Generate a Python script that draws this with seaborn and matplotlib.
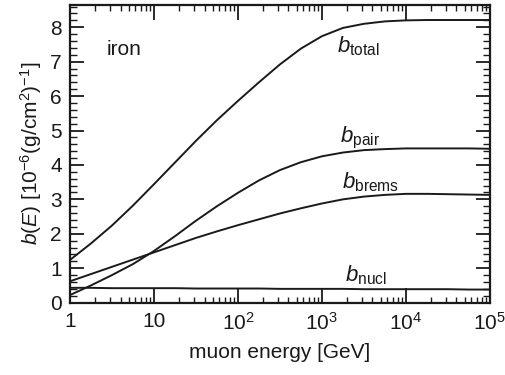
import numpy as np
import pandas as pd
import matplotlib
matplotlib.use("Agg")
import matplotlib.pyplot as plt
from matplotlib.ticker import LogLocator, MultipleLocator, FixedLocator, FixedFormatter, NullFormatter
import seaborn as sns

# Muon energy grid (GeV), quarter-decade steps from 1 GeV to 100 TeV
energy = [1.0, 1.778, 3.162, 5.623, 10.0, 17.78, 31.62, 56.23, 100.0, 177.8, 316.2,
          562.3, 1000.0, 1778.0, 3162.0, 5623.0, 1e4, 1.778e4, 3.162e4, 5.623e4, 1e5]

# Energy-loss coefficients in iron, units of 1e-6 (g/cm^2)^-1
b_total = [1.24, 1.72, 2.24, 2.82, 3.44, 4.07, 4.70, 5.30, 5.86, 6.40, 6.92,
           7.38, 7.74, 7.98, 8.10, 8.17, 8.20, 8.21, 8.21, 8.21, 8.21]
b_pair = [0.22, 0.50, 0.80, 1.12, 1.50, 1.93, 2.38, 2.80, 3.19, 3.55, 3.85,
          4.08, 4.25, 4.36, 4.43, 4.46, 4.48, 4.48, 4.48, 4.48, 4.47]
b_brems = [0.62, 0.83, 1.04, 1.25, 1.46, 1.67, 1.88, 2.07, 2.25, 2.42, 2.59,
           2.74, 2.88, 3.00, 3.08, 3.13, 3.16, 3.16, 3.15, 3.14, 3.13]
b_nucl = [0.43, 0.43, 0.42, 0.42, 0.42, 0.42, 0.41, 0.41, 0.41, 0.41, 0.40,
          0.40, 0.40, 0.40, 0.39, 0.39, 0.39, 0.39, 0.39, 0.38, 0.38]

process_names = ["total", "pair", "brems", "nucl"]
curve_labels = [r"$b_{\mathrm{total}}$", r"$b_{\mathrm{pair}}$",
                r"$b_{\mathrm{brems}}$", r"$b_{\mathrm{nucl}}$"]
label_energy = [1500, 1620, 1740, 1860]
label_value = [7.26, 4.66, 3.33, 0.61]

x_tick_values = [1, 10, 100, 1000, 1e4, 1e5]
x_tick_labels = ["1", "10", r"$10^2$", r"$10^3$", r"$10^4$", r"$10^5$"]
y_tick_values = [0, 1, 2, 3, 4, 5, 6, 7, 8]

sns.set_style("ticks")
plt.rcParams["font.family"] = ["Liberation Sans", "DejaVu Sans"]
plt.rcParams["mathtext.fontset"] = "custom"
plt.rcParams["mathtext.rm"] = "Liberation Sans"
plt.rcParams["mathtext.it"] = "Liberation Sans:italic"
plt.rcParams["mathtext.bf"] = "Liberation Sans:bold"

frames = []
for name, vals in zip(process_names, [b_total, b_pair, b_brems, b_nucl]):
    frames.append(pd.DataFrame({"energy": energy, "b": vals, "process": name}))
df = pd.concat(frames, ignore_index=True)

fig = plt.figure(figsize=(5.05, 3.75), dpi=100)
ax = fig.add_axes([0.1386, 0.193, 0.8314, 0.794])

sns.lineplot(data=df, x="energy", y="b", hue="process", units="process",
             estimator=None, sort=False, palette=["#1a1a1a"] * 4,
             linewidth=1.4, legend=False, ax=ax)

ax.set_xscale("log")
ax.set_xlim(1, 1e5)
ax.set_ylim(0, 8.65)

ax.xaxis.set_major_locator(FixedLocator(x_tick_values))
ax.xaxis.set_major_formatter(FixedFormatter(x_tick_labels))
ax.xaxis.set_minor_locator(LogLocator(base=10, subs=np.arange(2, 10)))
ax.xaxis.set_minor_formatter(NullFormatter())
ax.yaxis.set_major_locator(FixedLocator(y_tick_values))
ax.yaxis.set_minor_locator(MultipleLocator(0.2))

ax.tick_params(which="both", direction="in", top=True, right=True,
               labelsize=15, color="#1a1a1a", labelcolor="#1a1a1a")
ax.tick_params(axis="x", which="major", length=11, width=1.3, pad=7)
ax.tick_params(axis="x", which="minor", length=4, width=1.0)
ax.tick_params(axis="y", which="major", length=10, width=1.3, pad=6)
ax.tick_params(axis="y", which="minor", length=5, width=1.0)

for spine in ax.spines.values():
    spine.set_linewidth(1.6)
    spine.set_color("#1a1a1a")

ax.set_xlabel("muon energy [GeV]", fontsize=15, color="#1a1a1a", labelpad=6)
ax.set_ylabel(r"$b(E)$ [10$^{-6}$(g/cm$^2$)$^{-1}$]", fontsize=15,
              color="#1a1a1a", labelpad=4)

ax.text(2.76, 7.2, "iron", fontsize=15, color="#1a1a1a", va="baseline")
for lab, xe, yv in zip(curve_labels, label_energy, label_value):
    ax.text(xe, yv, lab, fontsize=16, color="#1a1a1a", va="baseline", ha="left")

fig.savefig("out.png", dpi=100, facecolor="white")
